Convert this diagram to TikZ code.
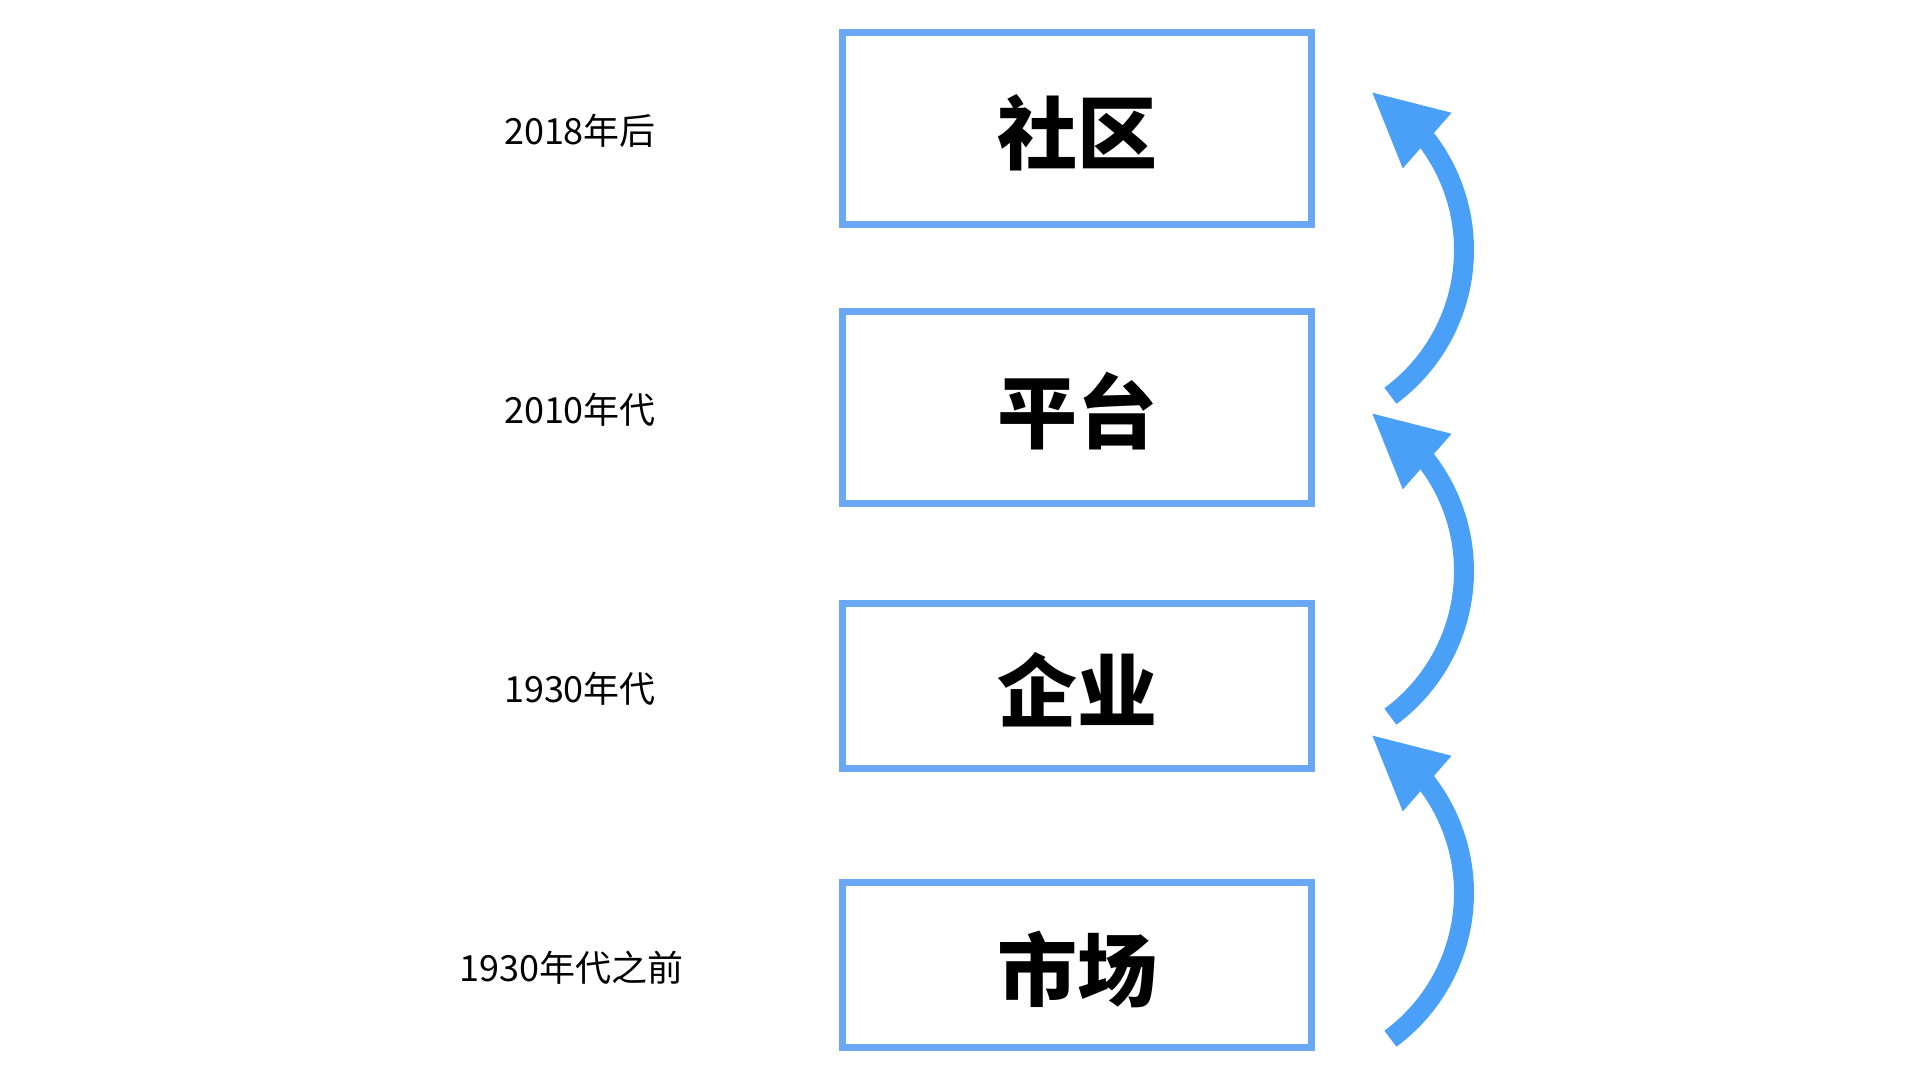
\documentclass[tikz,border=0pt]{standalone}
\usepackage{fontspec}
\setmainfont{Noto Sans CJK SC}
\newfontfamily\cjk{Noto Sans CJK SC}
\usetikzlibrary{calc}
\definecolor{boxblue}{RGB}{106,168,245}
\definecolor{arrblue}{RGB}{74,160,247}
\newcommand{\lowered}[1]{\raisebox{-4pt}[\height][\depth]{#1}}
\begin{document}
\begin{tikzpicture}[x=1pt,y=-1pt,
  stage/.style={draw=boxblue, line width=7pt, minimum width=469.5pt, inner sep=0pt,
    font=\cjk\bfseries\fontsize{80}{96}\selectfont, text=black},
  tall/.style={minimum height=192pt},
  short/.style={minimum height=165pt},
  era/.style={anchor=base, inner sep=0pt, font=\cjk\fontsize{36}{43}\selectfont, text=black},
  shaft/.style={draw=arrblue, line width=20pt},
  head/.style={fill=arrblue}]
\fill[white] (0,0) rectangle (1920,1080);
\useasboundingbox (0,0) rectangle (1920,1080);

\node[stage, tall]  (b1) at (1077,128.5) {\lowered{社区}};
\node[stage, tall]  (b2) at (1077,407) {\lowered{平台}};
\node[stage, short] (b3) at (1077,686) {\lowered{企业}};
\node[stage, short] (b4) at (1077,965) {\lowered{市场}};

\node[era] (l1) at (580,144) {2018年后};
\node[era] (l2) at (580,423) {2010年代};
\node[era] (l3) at (580,702) {1930年代};
\node[era] (l4) at (571.7,981) {1930年代之前};

\foreach \i/\yc in {1/250,2/571,3/893} {
  \coordinate (c\i) at (1283,\yc);
  \coordinate (s\i) at ($(c\i)+(53.6:181)$);
  \coordinate (m\i) at ($(c\i)+(-37.2:181)$);
  \coordinate (t\i) at ($(c\i)+(-60.4:181)$);
  \draw[shaft] (s\i) arc[start angle=53.6, end angle=-42, radius=181];
  \fill[head] (t\i) -- ($(m\i)+(24.4,-27.8)$) -- ($(m\i)+(-24.4,27.8)$) -- cycle;
}
\end{tikzpicture}
\end{document}
